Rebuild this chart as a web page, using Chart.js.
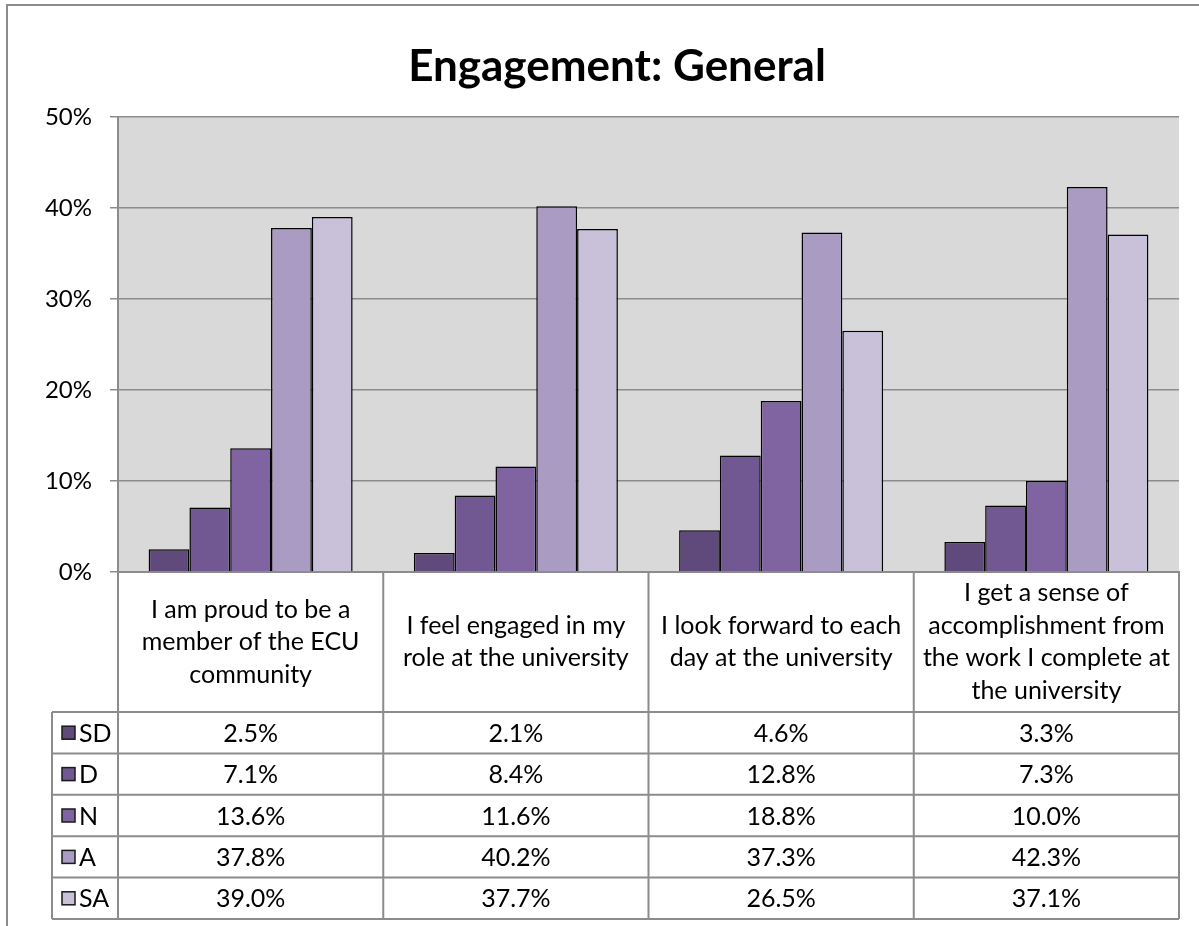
<!DOCTYPE html>
<html>
<head>
<meta charset="utf-8">
<title>Engagement: General</title>
<script src="https://cdn.jsdelivr.net/npm/chart.js@4.4.1/dist/chart.umd.min.js"></script>
<style>
  html, body { margin:0; padding:0; background:#fff; overflow:hidden; }
  #frame { position:absolute; left:6px; top:4px; width:1218px; height:940px; border:2px solid #8c8c8c; }
  #chart { display:block; }
</style>
</head>
<body>
<div id="frame"><canvas id="chart" width="1218" height="920"></canvas></div>
<script>
// DATA

const questions = [
  ['I am proud to be a', 'member of the ECU', 'community'],
  ['I feel engaged in my', 'role at the university'],
  ['I look forward to each', 'day at the university'],
  ['I get a sense of', 'accomplishment from', 'the work I complete at', 'the university']
];

const seriesNames = ['SD', 'D', 'N', 'A', 'SA'];

const sdValues = [2.5, 2.1, 4.6, 3.3];
const dValues  = [7.1, 8.4, 12.8, 7.3];
const nValues  = [13.6, 11.6, 18.8, 10.0];
const aValues  = [37.8, 40.2, 37.3, 42.3];
const saValues = [39.0, 37.7, 26.5, 37.1];

const yTicks = [0, 10, 20, 30, 40, 50];

const seriesValues = [sdValues, dValues, nValues, aValues, saValues];
const colors = ['#604a7b', '#725892', '#8064a2', '#a99bc2', '#c9c0da'];

const FONT = 'Lato, "Liberation Sans", sans-serif';
const LINE = '#8c8c8c';

Chart.defaults.font.family = FONT;
Chart.defaults.color = '#000';

// PLOT BACKGROUND

const plotBackground = {
  id:'plotBackground',
  beforeDraw(chart){
    const {ctx, chartArea:a} = chart;
    ctx.save();
    ctx.fillStyle = '#d9d9d9';
    ctx.fillRect(a.left, a.top, a.right - a.left, a.bottom - a.top);
    ctx.restore();
  }
};

// TITLE

const chartTitle = {
  id:'chartTitle',
  afterDraw(chart){
    const ctx = chart.ctx;
    ctx.save();
    ctx.font = 'bold 44px ' + FONT;
    ctx.fillStyle = '#000';
    ctx.textAlign = 'center';
    ctx.textBaseline = 'alphabetic';
    ctx.fillText('Engagement: General', chart.width / 2, 75);
    ctx.restore();
  }
};

// DATA TABLE UNDER THE AXIS

const dataTable = {
  id:'dataTable',
  afterDraw(chart){
    const {ctx, chartArea:a, scales:{x}} = chart;
    const n = questions.length;
    const colW = (a.right - a.left) / n;
    const headBottom = a.bottom + 140;
    const rowH = 41.4;
    const tableBottom = headBottom + rowH * seriesNames.length;
    const legendLeft = 44;

    ctx.save();
    ctx.strokeStyle = LINE;
    ctx.lineWidth = 2;
    ctx.beginPath();
    for(let i = 0; i <= n; i++){
      const xx = i < n ? x.getPixelForValue(i) - colW / 2 : a.right;
      ctx.moveTo(xx, a.bottom);
      ctx.lineTo(xx, tableBottom);
    }
    ctx.moveTo(legendLeft, headBottom);
    ctx.lineTo(legendLeft, tableBottom);
    for(let r = 0; r <= seriesNames.length; r++){
      const yy = headBottom + r * rowH;
      ctx.moveTo(legendLeft, yy);
      ctx.lineTo(a.right, yy);
    }
    ctx.stroke();

    // header labels
    ctx.fillStyle = '#000';
    ctx.font = '25px ' + FONT;
    ctx.textAlign = 'center';
    ctx.textBaseline = 'middle';
    const lineH = 32.5;
    const headMid = (a.bottom + headBottom) / 2;
    questions.forEach((lines, c) => {
      const cx = x.getPixelForValue(c);
      lines.forEach((t, k) => {
        ctx.fillText(t, cx, headMid + (k - (lines.length - 1) / 2) * lineH);
      });
    });

    // rows
    seriesNames.forEach((name, r) => {
      const cy = headBottom + r * rowH + rowH / 2;
      ctx.fillStyle = colors[r];
      ctx.fillRect(54, cy - 6.5, 13, 13);
      ctx.strokeStyle = '#1a1a1a';
      ctx.lineWidth = 1.5;
      ctx.strokeRect(54, cy - 6.5, 13, 13);
      ctx.fillStyle = '#000';
      ctx.textAlign = 'left';
      ctx.fillText(name, 71, cy + 1);
      ctx.textAlign = 'center';
      seriesValues[r].forEach((v, c) => {
        ctx.fillText(v.toFixed(1) + '%', x.getPixelForValue(c), cy + 1);
      });
    });
    ctx.restore();
  }
};

// CHART

const ctx = document.getElementById('chart');
new Chart(ctx, {
  type:'bar',
  data:{
    labels:questions,
    datasets:seriesNames.map((name, i) => ({
      label:name,
      data:seriesValues[i],
      backgroundColor:colors[i],
      borderColor:'#000',
      borderWidth:1.5,
      categoryPercentage:5 / 6.5,
      barPercentage:1
    }))
  },
  options:{
    responsive:false,
    animation:false,
    layout:{ padding:{ top:111, left:0, right:47, bottom:0 } },
    plugins:{
      legend:{ display:false },
      tooltip:{ enabled:false }
    },
    scales:{
      x:{
        grid:{ display:false },
        ticks:{ display:false },
        border:{ color:LINE, width:2 },
        afterFit(s){ s.height = 354; }
      },
      y:{
        min:0,
        max:50,
        afterBuildTicks(s){ s.ticks = yTicks.map(v => ({ value:v })); },
        ticks:{
          callback:v => v + '%',
          font:{ size:24 },
          color:'#000',
          padding:18
        },
        grid:{ color:LINE, lineWidth:1.5, tickLength:8 },
        border:{ color:LINE, width:2 },
        afterFit(s){ s.width = 110; }
      }
    }
  },
  plugins:[plotBackground, chartTitle, dataTable]
});
</script>
</body>
</html>
